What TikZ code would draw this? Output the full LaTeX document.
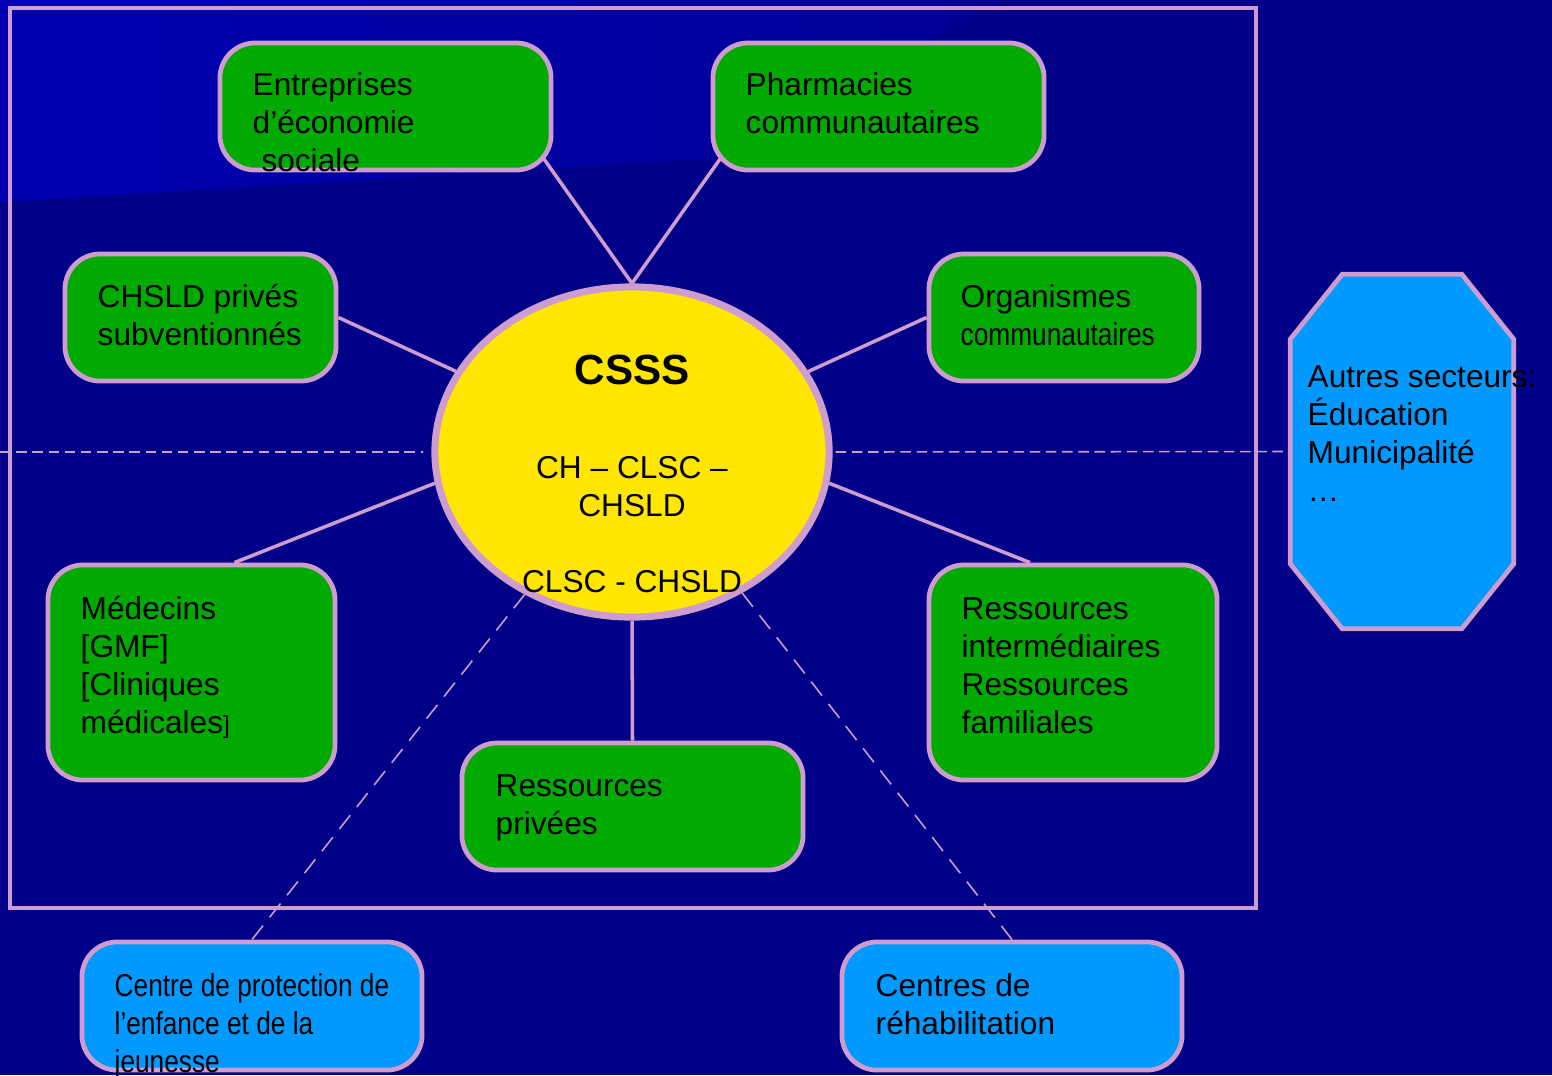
\documentclass[tikz,border=0pt]{standalone}
\usepackage{fontspec}
\setmainfont{Liberation Sans}
\newfontfamily\narrowfont{Liberation Sans}[FakeStretch=0.83]
\usetikzlibrary{shapes.geometric,calc}
\definecolor{navy}{RGB}{0,0,136}
\definecolor{navylight}{RGB}{0,0,178}
\definecolor{navymid}{RGB}{0,0,150}
\definecolor{lilac}{RGB}{206,156,206}
\definecolor{boxgreen}{RGB}{0,170,0}
\definecolor{sunyellow}{RGB}{255,230,0}
\definecolor{skyblue}{RGB}{0,153,255}
\pgfdeclarelayer{back}
\pgfdeclarelayer{links}
\pgfsetlayers{back,links,main}

\begin{document}
\begin{tikzpicture}[x=0.01cm, y=-0.01cm,
	every node/.style={font=\fontsize{9}{10.8}\selectfont, text=black},
	rbox/.style={draw=lilac, line width=1.35pt, rounded corners=10pt, inner sep=0pt},
	greenbox/.style={rbox, fill=boxgreen},
	bluebox/.style={rbox, fill=skyblue},
	boxtext/.style={anchor=base west, align=left, inner sep=0pt},
	link/.style={draw=lilac, line width=1pt},
	dashlink/.style={draw=lilac, line width=0.45pt, dash pattern=on 5pt off 3pt},
	hdash/.style={draw=lilac, line width=0.45pt, dash pattern=on 3pt off 1.6pt}]
	% backdrop and frame
	\begin{pgfonlayer}{back}
		\fill[navy] (0,0) rectangle (1552,1075);
		\shade[left color=navylight, right color=navymid] (0,0) -- (1000,0) -- (720,158) -- (0,202) -- cycle;
		\draw[lilac, line width=1.05pt] (10,8) rectangle (1256,908);
	\end{pgfonlayer}
	\useasboundingbox (0,0) rectangle (1552,1075);
	% centre (text nodes sit on their last baseline)
	\node[ellipse, draw=lilac, line width=2pt, fill=sunyellow, minimum width=3.94cm, minimum height=3.30cm, inner sep=0pt] (csss) at (632,452) {};
	\node[align=center, anchor=base, inner sep=0pt] (csssText) at (632,592) {{\bfseries\fontsize{12}{10.8}\selectfont CSSS}\\[15.7pt] CH – CLSC –\\ CHSLD\\[10.8pt] CLSC - CHSLD};
	% partners inside the frame
	\node[greenbox, minimum width=3.31cm, minimum height=1.27cm] (ent) at (385.5,106.5) {};
	\node[boxtext] (entText) at (252,171) {Entreprises\\d’économie\\\hspace*{2.5pt}sociale};
	\node[greenbox, minimum width=3.31cm, minimum height=1.27cm] (pharm) at (878.5,106.5) {};
	\node[boxtext] (pharmText) at (745,133) {Pharmacies\\communautaires};
	\node[greenbox, minimum width=2.71cm, minimum height=1.27cm] (chsld) at (200.5,317.5) {};
	\node[boxtext] (chsldText) at (97,345) {CHSLD privés\\subventionnés};
	\node[greenbox, minimum width=2.70cm, minimum height=1.27cm] (org) at (1064,317.5) {};
	\node[boxtext] (orgText) at (960,345) {Organismes\\{\narrowfont communautaires}};
	\node[greenbox, minimum width=2.87cm, minimum height=2.15cm] (med) at (191.5,672.5) {};
	\node[boxtext] (medText) at (80,733) {Médecins\\{[GMF]}\\{[Cliniques}\\médicales{\fontsize{7}{10.8}\selectfont]}};
	\node[greenbox, minimum width=3.41cm, minimum height=1.27cm] (rp) at (632.5,806.5) {};
	\node[boxtext] (rpText) at (495,834) {Ressources\\privées};
	\node[greenbox, minimum width=2.88cm, minimum height=2.15cm] (ri) at (1073,672.5) {};
	\node[boxtext] (riText) at (961,733) {Ressources\\intermédiaires\\Ressources\\familiales};
	% outside the frame
	\node[bluebox, minimum width=3.40cm, minimum height=1.28cm] (cp) at (252,1006) {};
	\node[boxtext] (cpText) at (114,1072) {\narrowfont Centre de protection de\\\narrowfont l’enfance et de la\\\narrowfont jeunesse};
	\node[bluebox, minimum width=3.40cm, minimum height=1.28cm] (cr) at (1012,1006) {};
	\node[boxtext] (crText) at (875,1034) {Centres de\\réhabilitation};
	\node[minimum width=2.22cm, minimum height=3.53cm, inner sep=0pt] (other) at (1402,451.5) {};
	\fill[skyblue, draw=lilac, line width=1.35pt]
		([xshift=0.52cm]other.north west) -- ([xshift=-0.52cm]other.north east)
		-- ([yshift=-0.65cm]other.north east) -- ([yshift=0.65cm]other.south east)
		-- ([xshift=-0.52cm]other.south east) -- ([xshift=0.52cm]other.south west)
		-- ([yshift=0.65cm]other.south west) -- ([yshift=-0.65cm]other.north west) -- cycle;
	\node[boxtext] (otherText) at (1307,501) {Autres secteurs:\\Éducation\\Municipalité\\…};
	\coordinate (leftEdge) at (0,452);
	% connectors
	\begin{pgfonlayer}{links}
		\draw[link] (csss.north) -- ($(csss.north)!1.15!(ent.south east)$);
		\draw[link] (csss.north) -- ($(csss.north)!1.15!(pharm.south west)$);
		\draw[link] (chsld.east) -- (csss);
		\draw[link] (org.west) -- (csss);
		\draw[link] ([xshift=0.43cm]med.north) -- (csss.189);
		\draw[link] ([xshift=-0.43cm]ri.north) -- (csss.351);
		\draw[link] (rp.north) -- (csss.south);
		\draw[dashlink] (csss.233) -- (cp.north);
		\draw[dashlink] (csss.308) -- (cr.north);
		\draw[hdash] (leftEdge) -- ([xshift=-0.08cm]csss.west);
		\draw[hdash] ([xshift=0.03cm]csss.east) -- (other.west);
	\end{pgfonlayer}
\end{tikzpicture}
\end{document}
